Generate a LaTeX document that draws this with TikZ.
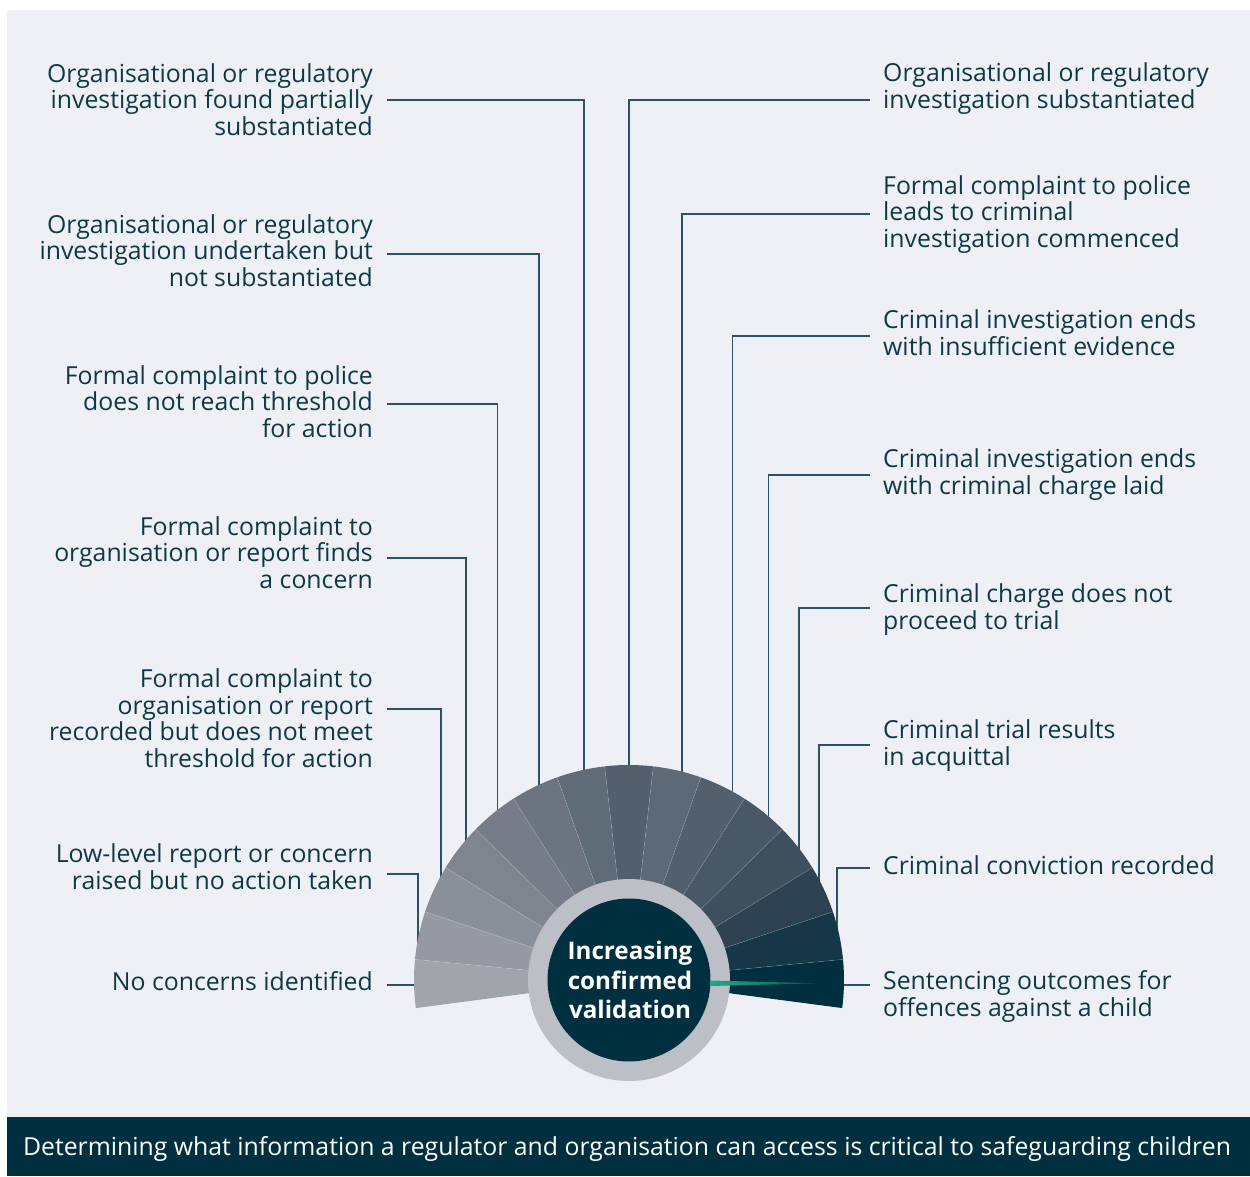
\documentclass[tikz,border=0pt]{standalone}
\usepackage{fontspec}
\setmainfont{Open Sans}
\usetikzlibrary{calc}

\definecolor{paper}{HTML}{EEF0F5}
\definecolor{ink}{HTML}{0D3947}
\definecolor{wire}{HTML}{2B5363}
\definecolor{deep}{HTML}{00303F}
\definecolor{ring}{HTML}{BCBFC6}
\definecolor{needle}{HTML}{1DAA82}
% fan shades, light to dark
\definecolor{w1}{HTML}{A0A4AB}
\definecolor{w2}{HTML}{959AA2}
\definecolor{w3}{HTML}{8A909A}
\definecolor{w4}{HTML}{7F858F}
\definecolor{w5}{HTML}{767D88}
\definecolor{w6}{HTML}{6C7480}
\definecolor{w7}{HTML}{606B78}
\definecolor{w8}{HTML}{525F6C}
\definecolor{w9}{HTML}{5D6976}
\definecolor{w10}{HTML}{525F6C}
\definecolor{w11}{HTML}{485867}
\definecolor{w12}{HTML}{3E4F5D}
\definecolor{w13}{HTML}{2E4252}
\definecolor{w14}{HTML}{153747}
\definecolor{w15}{HTML}{00303F}

\tikzset{
    lbl/.style={font=\fontsize{24.8}{26.7}\selectfont, text=ink, inner sep=0pt},
    leftlbl/.style={lbl, align=right, anchor=base east},
    rightlbl/.style={lbl, align=left, anchor=base west},
    link/.style={draw=wire, line width=1.5pt},
}

\begin{document}
\begin{tikzpicture}[x=1pt, y=1pt]
    % Page and panel
    \fill[white] (-629,-196) rectangle (621,980);
    \useasboundingbox (-629,-196) rectangle (621,980);
    \fill[paper] (-622,-196) rectangle (621,970);

    % Connector end points
    \coordinate (a1) at (-242,880);  \coordinate (f1) at (102.1:214);
    \coordinate (a2) at (-242,726);  \coordinate (f2) at (114.8:214);
    \coordinate (a3) at (-242,576);  \coordinate (f3) at (127.9:214);
    \coordinate (a4) at (-242,422);  \coordinate (f4) at (139.7:214);
    \coordinate (a5) at (-242,271);  \coordinate (f5) at (151.5:214);
    \coordinate (a6) at (-242,106);  \coordinate (f6) at (170.4:214);
    \coordinate (a7) at (-242,-5);   \coordinate (f7) at (181.3:210);
    \coordinate (b1) at (241,880);   \coordinate (g1) at (90:214);
    \coordinate (b2) at (241,766);   \coordinate (g2) at (75.7:214);
    \coordinate (b3) at (241,644);   \coordinate (g3) at (61.1:214);
    \coordinate (b4) at (241,505);   \coordinate (g4) at (49.4:214);
    \coordinate (b5) at (241,372);   \coordinate (g5) at (37.3:214);
    \coordinate (b6) at (241,235);   \coordinate (g6) at (27.4:214);
    \coordinate (b7) at (241,112);   \coordinate (g7) at (13.6:214);
    \coordinate (b8) at (241,-5);    \coordinate (g8) at (-1.3:210);

    % Connectors
    \foreach \i in {1,...,7} \draw[link] (a\i) -| (f\i);
    \foreach \i in {1,...,8} \draw[link] (b\i) -| (g\i);

    % Fan of stages
    \foreach \i in {1,...,15} {
        \pgfmathsetmacro{\sa}{187.5-13*(\i-1)}
        \fill[w\i] (0,0) -- (\sa:215) arc[start angle=\sa, end angle=\sa-13, radius=215] -- cycle;
    }
    \foreach \i in {1,...,14}
        \draw[white, opacity=.2, line width=.6pt] (0,0) -- ({174.5-13*(\i-1)}:215);

    % Centre dial
    \fill[ring] (0,0) circle (101);
    \fill[deep] (0,0) circle (81.5);
    \shade[left color=needle, right color=needle!30!deep] (81,-.5) -- (189,-3.3) -- (81,-6) -- cycle;
    \node[font=\fontsize{24.2}{29.5}\selectfont\bfseries, text=white, align=center] (dial) at (1,0)
        {Increasing\\confirmed\\validation};

    % Left labels (anchored on the last line)
    \node[leftlbl] (n1) at (-256,844.5) {Organisational or regulatory\\investigation found partially\\substantiated};
    \node[leftlbl] (n2) at (-256,693.5) {Organisational or regulatory\\investigation undertaken but\\not substantiated};
    \node[leftlbl] (n3) at (-256,542.5) {Formal complaint to police\\does not reach threshold\\for action};
    \node[leftlbl] (n4) at (-256,391.5) {Formal complaint to\\organisation or report finds\\a concern};
    \node[leftlbl] (n5) at (-256,212.5) {Formal complaint to\\organisation or report\\recorded but does not meet\\threshold for action};
    \node[leftlbl] (n6) at (-256,90.5) {Low-level report or concern\\raised but no action taken};
    \node[leftlbl] (n7) at (-256,-10.5) {No concerns identified};

    % Right labels
    \node[rightlbl] (m1) at (254,871.5) {Organisational or regulatory\\investigation substantiated};
    \node[rightlbl] (m2) at (254,732.5) {Formal complaint to police\\leads to criminal\\investigation commenced};
    \node[rightlbl] (m3) at (254,624.5) {Criminal investigation ends\\with insufficient evidence};
    \node[rightlbl] (m4) at (254,485.5) {Criminal investigation ends\\with criminal charge laid};
    \node[rightlbl] (m5) at (254,350.5) {Criminal charge does not\\proceed to trial};
    \node[rightlbl] (m6) at (254,214.5) {Criminal trial results\\in acquittal};
    \node[rightlbl] (m7) at (254,105.5) {Criminal conviction recorded};
    \node[rightlbl] (m8) at (254,-36.5) {Sentencing outcomes for\\offences against a child};

    % Footer bar
    \fill[deep] (-622,-196) rectangle (621,-137);
    \node[font=\fontsize{24.8}{26}\selectfont, text=white] (foot) at (-2,-169)
        {Determining what information a regulator and organisation can access is critical to safeguarding children};
\end{tikzpicture}
\end{document}
